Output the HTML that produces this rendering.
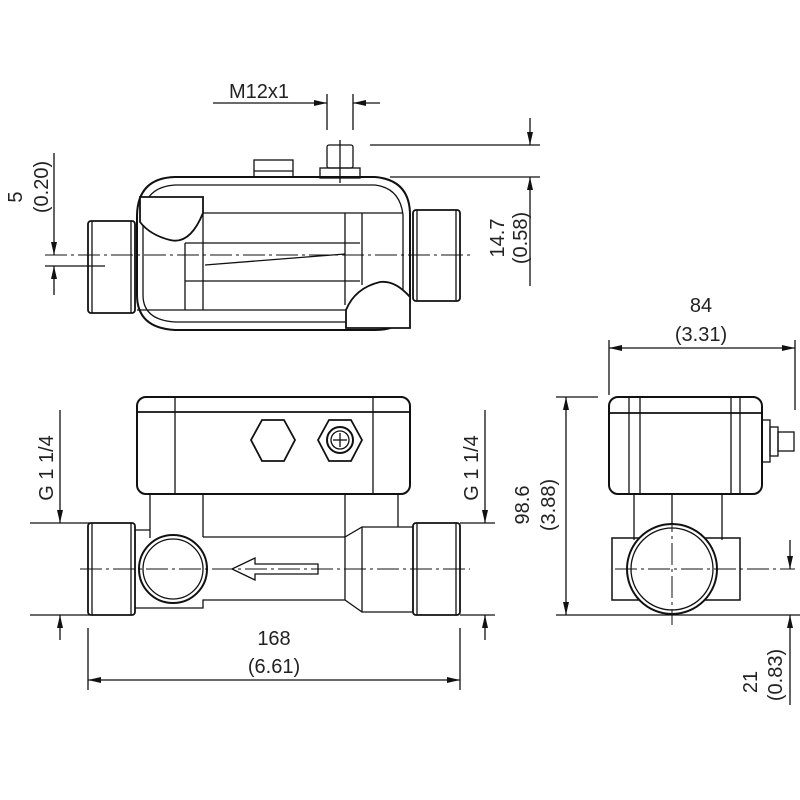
<!DOCTYPE html>
<html><head><style>body{margin:0;background:#fff}svg{display:block}text{font-family:"Liberation Sans",sans-serif;fill:#222}</style></head><body>
<svg width="800" height="800" viewBox="0 0 800 800" xmlns="http://www.w3.org/2000/svg">
<g stroke="#111" fill="none" stroke-width="1.3">
<!-- TOP VIEW -->
<line x1="213" y1="103" x2="327" y2="103"/>
<line x1="380" y1="103" x2="353" y2="103"/>
<line x1="327" y1="94" x2="327" y2="130"/><line x1="353" y1="94" x2="353" y2="130"/>
<rect x="327" y="145" width="26" height="23" rx="2"/>
<rect x="320" y="168" width="40" height="10"/><line x1="340" y1="140" x2="340" y2="183"/>
<rect x="254" y="160" width="39" height="17"/><line x1="254" y1="171" x2="293" y2="171"/>
<path d="M175,177 L375,177 Q410,180 410,215 L410,300 Q408,330 375,330 L175,330 Q137,328 137,295 L137,215 Q138,178 175,177 Z" stroke-width="2"/>
<path d="M175,185 L375,185 Q400,188 403,215 L403,300 Q400,322 375,322 L175,322 Q143,320 143,295 L143,215 Q145,187 175,185 Z"/>
<rect x="88" y="221" width="47" height="92" rx="3" stroke-width="1.8" fill="#fff"/>
<line x1="92" y1="221" x2="92" y2="313"/><line x1="131" y1="221" x2="131" y2="313"/>
<rect x="413" y="210" width="47" height="91" rx="3" stroke-width="1.8" fill="#fff"/>
<line x1="417" y1="210" x2="417" y2="301"/><line x1="456" y1="210" x2="456" y2="301"/>
<path d="M140,197 L203,197 L203,213 Q190,245 170,240 Q150,235 140,222 Z" stroke-width="1.8" fill="#fff"/>
<path d="M346,328 L410,328 L410,297 Q395,280 380,282 Q355,288 346,310 Z" stroke-width="1.8" fill="#fff"/>
<line x1="203" y1="213" x2="403" y2="213"/><line x1="137" y1="310" x2="346" y2="310"/>
<line x1="185" y1="243" x2="360" y2="243"/><line x1="185" y1="281" x2="360" y2="281"/>
<line x1="205" y1="265" x2="345" y2="254"/>
<line x1="185" y1="243" x2="185" y2="310"/><line x1="203" y1="213" x2="203" y2="310"/>
<line x1="345" y1="213" x2="345" y2="305"/><line x1="362" y1="213" x2="362" y2="285"/>
<line x1="45" y1="255" x2="470" y2="255" stroke-dasharray="22,4,3,4" stroke-width="1"/>
<line x1="45" y1="266" x2="105" y2="266"/>
<line x1="54" y1="153" x2="54" y2="255"/>
<line x1="54" y1="295" x2="54" y2="266"/>
<line x1="370" y1="145" x2="540" y2="145"/><line x1="390" y1="177" x2="540" y2="177"/>
<line x1="530" y1="118" x2="530" y2="145"/>
<line x1="530" y1="286" x2="530" y2="177"/>
<!-- FRONT VIEW -->
<rect x="137" y="397" width="273" height="97" rx="9" stroke-width="2"/>
<line x1="137" y1="412" x2="410" y2="412" stroke-width="1.8"/>
<line x1="175" y1="397" x2="175" y2="494"/><line x1="373" y1="397" x2="373" y2="494"/>
<polygon points="262,420 284,420 295,440 284,461 262,461 251,440" stroke-width="1.8"/>
<polygon points="329,420 351,420 362,440 351,461 329,461 318,440" stroke-width="1.8"/>
<circle cx="340" cy="440" r="13" stroke-width="2"/><circle cx="340" cy="440" r="9"/>
<line x1="333" y1="440" x2="347" y2="440"/><line x1="340" y1="433" x2="340" y2="447"/>
<line x1="150" y1="494" x2="150" y2="538"/><line x1="203" y1="494" x2="203" y2="537"/>
<line x1="398" y1="494" x2="398" y2="527"/><line x1="345" y1="494" x2="345" y2="537"/>
<rect x="88" y="523" width="47" height="92" rx="3" stroke-width="1.8"/>
<line x1="92" y1="523" x2="92" y2="615"/><line x1="131" y1="523" x2="131" y2="615"/>
<rect x="413" y="523" width="47" height="92" rx="3" stroke-width="1.8"/>
<line x1="417" y1="523" x2="417" y2="615"/><line x1="456" y1="523" x2="456" y2="615"/>
<path d="M135,530 L150,530 M135,608 L203,608 L203,600 L345,600 L362,612 L413,612 M413,527 L362,527 L345,537 L203,537"/>
<line x1="362" y1="527" x2="362" y2="612"/><line x1="345" y1="537" x2="345" y2="600"/>
<circle cx="173" cy="569" r="34" fill="#fff" stroke-width="2"/><circle cx="173" cy="569" r="30"/>
<path d="M318,564 L255,564 L255,558 L232,569 L255,580 L255,574 L318,574 Z"/>
<line x1="80" y1="569" x2="470" y2="569" stroke-dasharray="22,4,3,4" stroke-width="1"/>
<line x1="30" y1="523" x2="90" y2="523"/><line x1="30" y1="615" x2="90" y2="615"/>
<line x1="60" y1="410" x2="60" y2="523"/>
<line x1="60" y1="640" x2="60" y2="615"/>
<line x1="460" y1="523" x2="495" y2="523"/><line x1="460" y1="615" x2="495" y2="615"/>
<line x1="485" y1="410" x2="485" y2="523"/>
<line x1="485" y1="640" x2="485" y2="615"/>
<line x1="88" y1="628" x2="88" y2="690"/><line x1="460" y1="628" x2="460" y2="690"/>
<line x1="88" y1="680" x2="460" y2="680"/>
<!-- SIDE VIEW -->
<rect x="609" y="397" width="153" height="97" rx="9" stroke-width="2"/>
<line x1="609" y1="413" x2="762" y2="413" stroke-width="1.8"/>
<line x1="629" y1="397" x2="629" y2="494"/><line x1="640" y1="397" x2="640" y2="494"/>
<line x1="731" y1="397" x2="731" y2="494"/><line x1="740" y1="397" x2="740" y2="494"/>
<rect x="762" y="420" width="8" height="42"/><rect x="770" y="427" width="8" height="29"/><rect x="778" y="432" width="16" height="19"/>
<line x1="634" y1="494" x2="634" y2="540"/><line x1="722" y1="494" x2="722" y2="540"/><line x1="672" y1="494" x2="672" y2="525"/>
<rect x="612" y="538" width="128" height="62" stroke-width="1.5"/>
<circle cx="672" cy="569" r="45" fill="#fff" stroke-width="2"/><circle cx="672" cy="569" r="41"/>
<line x1="615" y1="569" x2="795" y2="569" stroke-dasharray="22,4,3,4" stroke-width="1"/>
<line x1="672" y1="510" x2="672" y2="625" stroke-dasharray="22,4,3,4" stroke-width="1"/>
<line x1="609" y1="340" x2="609" y2="395"/><line x1="795" y1="340" x2="795" y2="410"/>
<line x1="609" y1="348" x2="795" y2="348"/>
<line x1="556" y1="397" x2="598" y2="397"/><line x1="556" y1="615" x2="800" y2="615"/>
<line x1="566" y1="397" x2="566" y2="615"/>
<line x1="790" y1="540" x2="790" y2="569"/>
<line x1="790" y1="705" x2="790" y2="615"/>
</g>
<g fill="#111">
<polygon points="327,103 314,100 314,106"/><polygon points="353,103 366,100 366,106"/>
<polygon points="54,255 51,242 57,242"/><polygon points="54,266 51,279 57,279"/>
<polygon points="530,145 527,132 533,132"/><polygon points="530,177 527,190 533,190"/>
<polygon points="60,523 57,510 63,510"/><polygon points="60,615 57,628 63,628"/>
<polygon points="485,523 482,510 488,510"/><polygon points="485,615 482,628 488,628"/>
<polygon points="88,680 101,677 101,683"/><polygon points="460,680 447,677 447,683"/>
<polygon points="609,348 622,345 622,351"/><polygon points="795,348 782,345 782,351"/>
<polygon points="566,397 563,410 569,410"/><polygon points="566,615 563,602 569,602"/>
<polygon points="790,569 787,556 793,556"/><polygon points="790,615 787,628 793,628"/>
</g>
<g font-size="20">
<text x="229" y="98">M12x1</text>
<text transform="translate(22,197) rotate(-90)" text-anchor="middle">5</text>
<text transform="translate(48,187) rotate(-90)" text-anchor="middle">(0.20)</text>
<text transform="translate(504,238) rotate(-90)" text-anchor="middle">14.7</text>
<text transform="translate(527,238) rotate(-90)" text-anchor="middle">(0.58)</text>
<text transform="translate(53,468) rotate(-90)" text-anchor="middle">G 1 1/4</text>
<text transform="translate(478,468) rotate(-90)" text-anchor="middle">G 1 1/4</text>
<text x="274" y="645" text-anchor="middle">168</text>
<text x="274" y="673" text-anchor="middle">(6.61)</text>
<text x="701" y="312" text-anchor="middle">84</text>
<text x="701" y="341" text-anchor="middle">(3.31)</text>
<text transform="translate(529,505) rotate(-90)" text-anchor="middle">98.6</text>
<text transform="translate(555,505) rotate(-90)" text-anchor="middle">(3.88)</text>
<text transform="translate(757,682) rotate(-90)" text-anchor="middle">21</text>
<text transform="translate(782,675) rotate(-90)" text-anchor="middle">(0.83)</text>
</g>
</svg>
</body></html>
